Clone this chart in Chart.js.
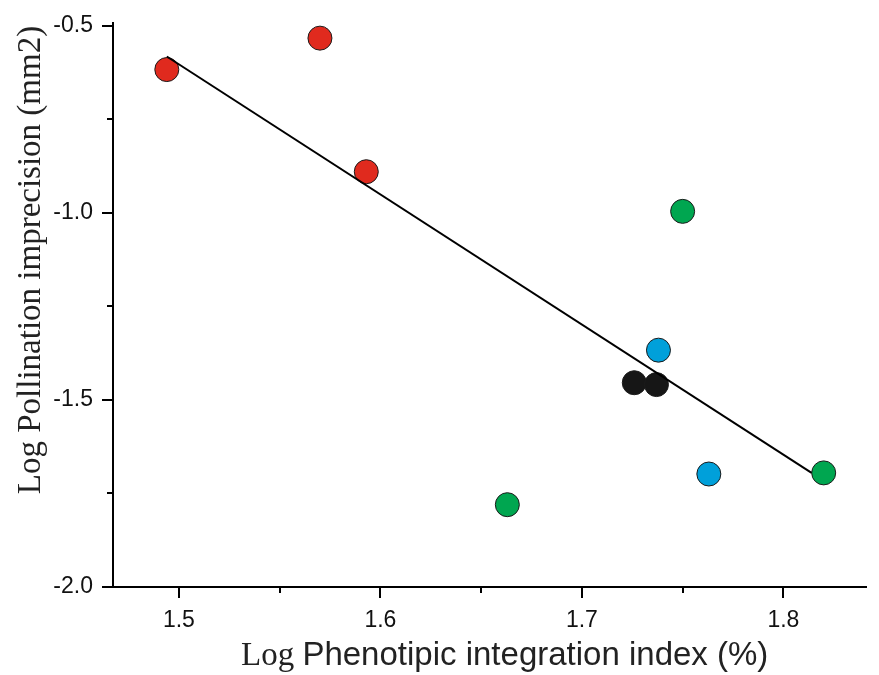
<!DOCTYPE html>
<html>
<head>
<meta charset="utf-8">
<script src="https://cdn.jsdelivr.net/npm/chart.js"></script>
<style>
  body { margin: 0; background: #fff; }
  #wrap { width: 879px; height: 675px; position: relative; }
</style>
</head>
<body>
<div id="wrap"><canvas id="scatter-chart"></canvas></div>
<script>
// values (both axes are log values)
const redX = [1.494, 1.570, 1.593];
const redY = [-0.617, -0.533, -0.890];
const greenX = [1.750, 1.663, 1.820];
const greenY = [-0.996, -1.780, -1.695];
const blueX = [1.738, 1.763];
const blueY = [-1.367, -1.698];
const blackX = [1.726, 1.737];
const blackY = [-1.454, -1.459];
// fitted line, start and end as drawn
const fitX = [1.494, 1.814];
const fitY = [-0.582, -1.695];

const xTicks = [1.5, 1.55, 1.6, 1.65, 1.7, 1.75, 1.8];
const xLabels = ['1.5', '', '1.6', '', '1.7', '', '1.8'];
const yTicks = [-2.0, -1.75, -1.5, -1.25, -1.0, -0.75, -0.5];
const yLabels = ['-2.0', '', '-1.5', '', '-1.0', '', '-0.5'];

function pairs(xs, ys) {
    return xs.map((x, i) => ({ x: x, y: ys[i] }));
}

function dots(data, color) {
    return {
        type: 'scatter',
        data: data,
        backgroundColor: color,
        borderColor: '#1a1a1a',
        borderWidth: 1,
        pointRadius: 12,
        pointHoverRadius: 12,
        order: 1
    };
}

// tick marks: long for labelled values, short for the in-between ones
const tickMarks = {
    id: 'tickMarks',
    afterDraw(chart) {
        const c = chart.ctx;
        c.save();
        c.strokeStyle = '#000';
        c.lineWidth = 2;
        const xs = chart.scales.x, ys = chart.scales.y;
        xs.ticks.forEach((t, i) => {
            const p = Math.round(xs.getPixelForValue(t.value));
            const len = xLabels[i] ? 11 : 6;
            c.beginPath();
            c.moveTo(p, xs.top);
            c.lineTo(p, xs.top + len);
            c.stroke();
        });
        ys.ticks.forEach((t, i) => {
            const p = Math.round(ys.getPixelForValue(t.value));
            const len = yLabels[i] ? 11 : 6;
            c.beginPath();
            c.moveTo(ys.right, p);
            c.lineTo(ys.right - len, p);
            c.stroke();
        });
        c.restore();
    }
};

// axis titles (the x title mixes a serif "Log" with a sans-serif rest)
const axisTitles = {
    id: 'axisTitles',
    afterDraw(chart) {
        const c = chart.ctx;
        c.save();
        c.fillStyle = '#222';
        c.textBaseline = 'alphabetic';
        c.textAlign = 'left';
        c.font = '33px "Liberation Serif"';
        let x = 241;
        c.fillText('Log ', x, 665);
        x += c.measureText('Log ').width;
        c.font = '33px "Liberation Sans"';
        c.fillText('Phenotipic integration index (%)', x, 665);

        c.translate(31, 260);
        c.rotate(-Math.PI / 2);
        c.textAlign = 'center';
        c.textBaseline = 'middle';
        c.font = '33px "Liberation Serif"';
        c.fillText('Log Pollination imprecision (mm2)', 0, 0);
        c.restore();
    }
};

var ctx = document.getElementById('scatter-chart').getContext('2d');
var myChart = new Chart(ctx, {
    data: {
        datasets: [
            {
                type: 'line',
                data: pairs(fitX, fitY),
                borderColor: '#000',
                borderWidth: 2,
                pointRadius: 0,
                fill: false,
                order: 0
            },
            dots(pairs(redX, redY), '#e02a1e'),
            dots(pairs(greenX, greenY), '#00a650'),
            dots(pairs(blueX, blueY), '#00a0da'),
            dots(pairs(blackX, blackY), '#161616')
        ]
    },
    options: {
        responsive: true,
        maintainAspectRatio: false,
        animation: false,
        layout: { padding: { left: 0, right: 0, top: 18, bottom: 0 } },
        plugins: {
            legend: { display: false },
            tooltip: { enabled: false }
        },
        scales: {
            x: {
                type: 'linear',
                min: 1.4673,
                max: 1.841,
                afterBuildTicks: scale => { scale.ticks = xTicks.map(v => ({ value: v })); },
                afterFit: scale => { scale.height = 88; },
                ticks: {
                    callback: (v, i) => xLabels[i],
                    color: '#111',
                    font: { family: 'Liberation Sans', size: 23 },
                    padding: 9,
                    maxRotation: 0,
                    autoSkip: false
                },
                grid: { drawOnChartArea: false, tickLength: 11, tickColor: 'rgba(0,0,0,0)' },
                border: { display: true, color: '#000', width: 2 }
            },
            y: {
                type: 'linear',
                min: -2.0,
                max: -0.492,
                afterBuildTicks: scale => { scale.ticks = yTicks.map(v => ({ value: v })); },
                afterFit: scale => { scale.width = 113; },
                ticks: {
                    callback: (v, i) => yLabels[i],
                    color: '#111',
                    font: { family: 'Liberation Sans', size: 23 },
                    padding: 9,
                    autoSkip: false
                },
                grid: { drawOnChartArea: false, tickLength: 11, tickColor: 'rgba(0,0,0,0)' },
                border: { display: true, color: '#000', width: 2 }
            }
        }
    },
    plugins: [tickMarks, axisTitles]
});
</script>
</body>
</html>
